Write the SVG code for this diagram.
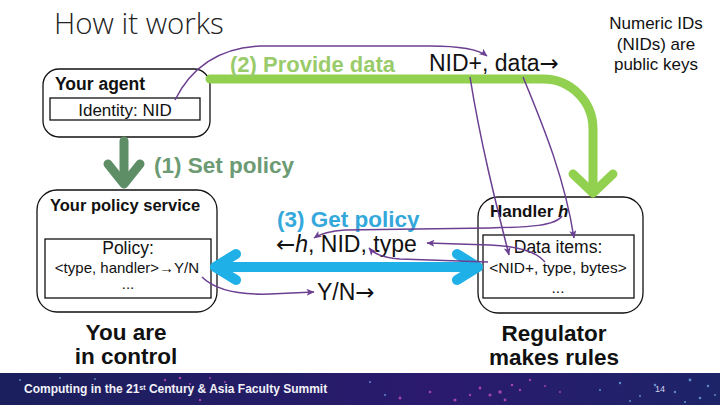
<svg xmlns="http://www.w3.org/2000/svg" width="720" height="405" viewBox="0 0 720 405">
<defs>
<style>
text{font-family:"Liberation Sans",Arial,sans-serif;fill:#111}
.b{font-weight:bold}
.ar{font-family:"DejaVu Sans","Liberation Sans",sans-serif}
.box{fill:#fff;stroke:#111;stroke-width:1.3}
.inner{fill:#fff;stroke:#111;stroke-width:1.3}
.pur{fill:none;stroke:#6b3f91;stroke-width:1.5;marker-end:url(#ph)}
.thick{fill:none;stroke-linecap:round;stroke-linejoin:round}
</style>
<marker id="ph" markerUnits="userSpaceOnUse" markerWidth="9" markerHeight="8" refX="7.5" refY="3.5" orient="auto">
<path d="M0,0 L8,3.5 L0,7 L2,3.5 z" fill="#6b3f91"/>
</marker>
<linearGradient id="ban" x1="0" y1="0" x2="1" y2="0">
<stop offset="0" stop-color="#1b1f5c"/>
<stop offset="0.35" stop-color="#231c66"/>
<stop offset="0.6" stop-color="#2b1a6e"/>
<stop offset="1" stop-color="#1d2468"/>
</linearGradient>
</defs>
<rect width="720" height="405" fill="#fff"/>

<g id="title"><text x="54" y="34" style="font-family:'Open Sans','Liberation Sans',sans-serif;font-weight:300;font-size:29.5px;fill:#222">How it works</text></g>
<g id="note"><text x="656" y="29" text-anchor="middle" style="font-size:17px">Numeric IDs</text>
<text x="656" y="50" text-anchor="middle" style="font-size:17px">(NIDs) are</text>
<text x="656" y="70" text-anchor="middle" style="font-size:17px">public keys</text></g>

<g id="agent">
<rect class="box" x="43" y="69" width="167" height="68" rx="16"/>
<text x="55" y="90" class="b" style="font-size:17.5px">Your agent</text>
<rect class="inner" x="50" y="98" width="150" height="22"/>
<text x="125" y="116" text-anchor="middle" style="font-size:17px">Identity: NID</text>
</g>

<g id="policy-service">
<rect class="box" x="37" y="190" width="180" height="122" rx="20"/>
<text x="50" y="211" class="b" style="font-size:16.5px">Your policy service</text>
<rect class="inner" x="45" y="239" width="166" height="59"/>
<text x="128" y="254" text-anchor="middle" style="font-size:17.5px">Policy:</text>
<text x="127" y="273" text-anchor="middle" style="font-size:15px">&lt;type, handler&gt;→Y/N</text>
<text x="128" y="289" text-anchor="middle" style="font-size:15px">...</text>
</g>

<g id="handler">
<rect class="box" x="478" y="197" width="165" height="116" rx="20"/>
<text x="490" y="217" class="b" style="font-size:17px">Handler <tspan font-style="italic">h</tspan></text>
<rect class="inner" x="483" y="235" width="151" height="63"/>
<text x="558" y="253" text-anchor="middle" style="font-size:17.5px">Data items:</text>
<text x="558" y="273" text-anchor="middle" style="font-size:15.5px">&lt;NID+, type, bytes&gt;</text>
<text x="558" y="293" text-anchor="middle" style="font-size:15.5px">...</text>
</g>

<g id="captions">
<text x="126" y="340" text-anchor="middle" class="b" style="font-size:22.5px">You are</text>
<text x="126" y="364" text-anchor="middle" class="b" style="font-size:22.5px">in control</text>
<text x="554" y="341" text-anchor="middle" class="b" style="font-size:22.5px">Regulator</text>
<text x="554" y="365" text-anchor="middle" class="b" style="font-size:22.5px">makes rules</text>
</g>

<g id="connectors">
<path class="thick" d="M210,79 H543 A50,50 0 0 1 593,129 V188" stroke="#92d050" stroke-width="9"/>
<polyline class="thick" points="573,174 593,193 613,174" stroke="#92d050" stroke-width="9"/>
<line class="thick" x1="124" y1="141" x2="124" y2="182" stroke="#5e8e66" stroke-width="9"/>
<polyline class="thick" points="108,164 124,184 140,164" stroke="#5e8e66" stroke-width="9"/>
<line class="thick" x1="220" y1="267" x2="474" y2="267" stroke="#1eb0e6" stroke-width="10"/>
<polyline class="thick" points="236,254 215,267 236,280" stroke="#1eb0e6" stroke-width="10"/>
<polyline class="thick" points="457,254 478,267 457,280" stroke="#1eb0e6" stroke-width="10"/>
<text x="154" y="173" class="b" style="font-size:22.5px;fill:#6b9a73">(1) Set policy</text>
<text x="230" y="72" class="b" style="font-size:22px;fill:#9acb6a">(2) Provide data</text>
<text x="429" y="71" style="font-size:23px">NID+, data<tspan class="ar">→</tspan></text>
<text x="277" y="227" class="b" style="font-size:22.5px;fill:#35a8db">(3) Get policy</text>
<text x="276" y="252" style="font-size:23px"><tspan class="ar">←</tspan><tspan font-style="italic">h</tspan>, NID, type</text>
<text x="317" y="300" style="font-size:23px">Y/N<tspan class="ar">→</tspan></text>
<path class="pur" d="M175,100 C190,70 215,48 260,46 L430,46 C460,46 478,49 487,56"/>
<path class="pur" d="M470,77 C480,140 495,200 509,255"/>
<path class="pur" d="M523,77 C545,130 565,180 574,238"/>
<path class="pur" d="M562,216 C555,226 530,227 490,228 L345,230 C330,231 320,234 314,238"/>
<path class="pur" d="M545,262 C535,250 515,246 490,245 L427,243"/>
<path class="pur" d="M488,262 L400,259 C385,258 375,255 369,248"/>
<path class="pur" d="M202,277 C215,290 240,295 270,294 L314,292"/>
</g>

<g id="footer">
<rect x="0" y="373" width="720" height="32" fill="url(#ban)"/>
<g fill="#c04fb8" opacity="0.8">
<circle cx="165" cy="380" r="1.2"/><circle cx="172" cy="386" r="1"/><circle cx="180" cy="378" r="1.3"/><circle cx="190" cy="384" r="1"/><circle cx="200" cy="400" r="1.2"/><circle cx="210" cy="378" r="1"/><circle cx="225" cy="382" r="1"/>
<circle cx="400" cy="398" r="1.5"/><circle cx="430" cy="392" r="1.3"/><circle cx="455" cy="400" r="1.6"/><circle cx="470" cy="395" r="1.2"/><circle cx="480" cy="388" r="1.4"/><circle cx="490" cy="395" r="1.6"/><circle cx="500" cy="392" r="1.8"/><circle cx="505" cy="400" r="1.4"/><circle cx="512" cy="385" r="1.3"/><circle cx="520" cy="390" r="1.2"/><circle cx="530" cy="380" r="1.2"/><circle cx="545" cy="386" r="1"/><circle cx="560" cy="392" r="1"/>
</g>
<g fill="#6fa6e6" opacity="0.8">
<circle cx="20" cy="380" r="0.9"/><circle cx="60" cy="378" r="0.9"/><circle cx="95" cy="379" r="0.9"/><circle cx="370" cy="382" r="1"/><circle cx="385" cy="395" r="1"/><circle cx="600" cy="390" r="1"/><circle cx="620" cy="383" r="1.2"/><circle cx="640" cy="396" r="1"/><circle cx="655" cy="385" r="1.3"/><circle cx="675" cy="392" r="1.2"/><circle cx="690" cy="380" r="1.4"/><circle cx="700" cy="398" r="1.3"/><circle cx="708" cy="386" r="1.2"/><circle cx="715" cy="395" r="1"/><circle cx="685" cy="402" r="1.1"/><circle cx="630" cy="401" r="1"/>
</g>
<text x="24" y="393" class="b" style="font-size:12px;fill:#f2f2f8">Computing in the 21<tspan style="font-size:7px" baseline-shift="super">st</tspan> Century &amp; Asia Faculty Summit</text>
<text x="655" y="392" style="font-size:9px;fill:#d0d4ee">14</text>
</g>
</svg>
